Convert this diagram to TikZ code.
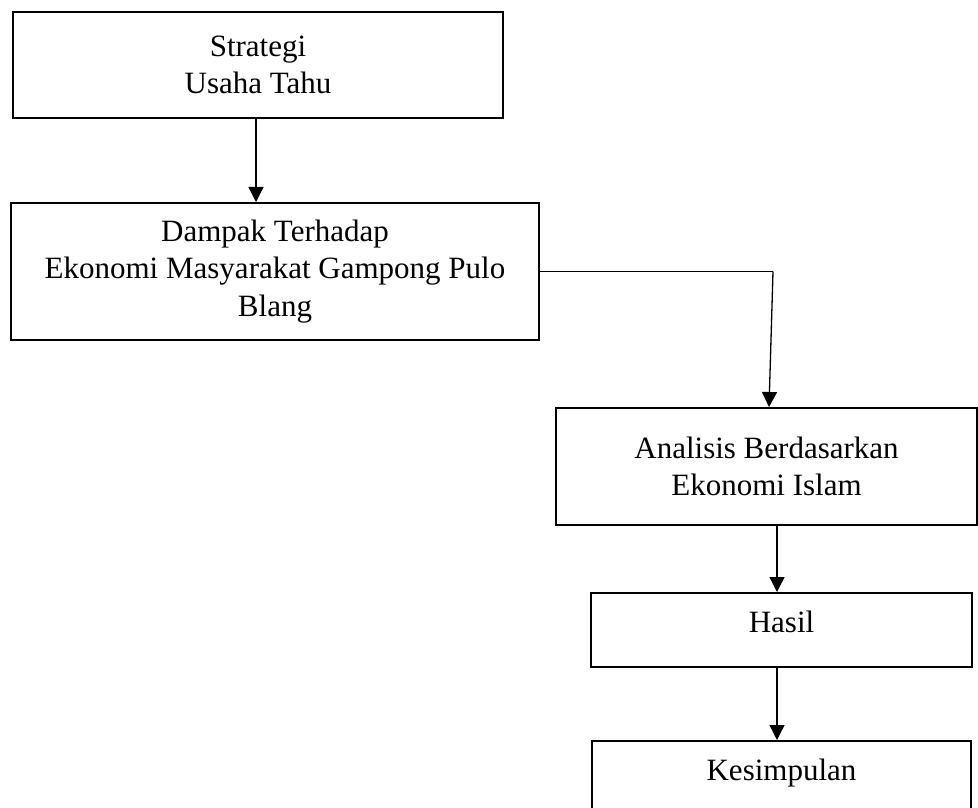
\documentclass[tikz,border=0pt]{standalone}
\usepackage{fontspec}
\setmainfont{Liberation Serif}
\usetikzlibrary{arrows.meta,calc}
\tikzset{
  kotak/.style={draw, line width=1pt, rectangle, align=center, inner sep=0pt,
    font=\fontsize{15.5}{18.7}\selectfont},
  kotakkecil/.style={kotak, minimum height=37pt, text height=11pt, text depth=9pt},
  panah/.style={line width=0.65pt, -{Triangle[width=7.5pt,length=7.5pt]}}
}

\begin{document}
\begin{tikzpicture}[x=0.5pt, y=-0.5pt]
			%%%%% START %%%%%
			\useasboundingbox (0, 0) rectangle (978, 807);
			
			\node[kotak, minimum width=245pt, minimum height=53pt] (strategi) at (258, 65) {Strategi\\Usaha Tahu};
			\node[kotak, minimum width=264pt, minimum height=68.5pt] (dampak) at (275, 271.5) {Dampak Terhadap\\Ekonomi Masyarakat Gampong Pulo\\Blang};
			\node[kotak, minimum width=210.5pt, minimum height=58.5pt] (analisis) at (766.5, 466.5) {Analisis Berdasarkan\\Ekonomi Islam};
			\node[kotakkecil, minimum width=190.5pt] (hasil) at (781.5, 630) {Hasil};
			\node[kotakkecil, minimum width=189.5pt] (kesimpulan) at (781.5, 778) {Kesimpulan};
			
			\coordinate (turun) at ($(strategi.south)+(-2, 0)$);
			\coordinate (belok) at (773, 271.5);
			
			\draw[panah] (turun) -- (turun |- dampak.north);
			\draw[line width=0.65pt] (dampak.east) -- (belok);
			\draw[panah] (belok) -- ($(analisis.north)+(2.5, 0)$);
			\draw[panah] ($(analisis.south)+(10.5, 0)$) -- ($(hasil.north)+(-4.5, 0)$);
			\draw[panah] ($(hasil.south)+(-4.5, 0)$) -- ($(kesimpulan.north)+(-4.5, 0)$);
			
			%%%%% END %%%%%
\end{tikzpicture}
\end{document}
